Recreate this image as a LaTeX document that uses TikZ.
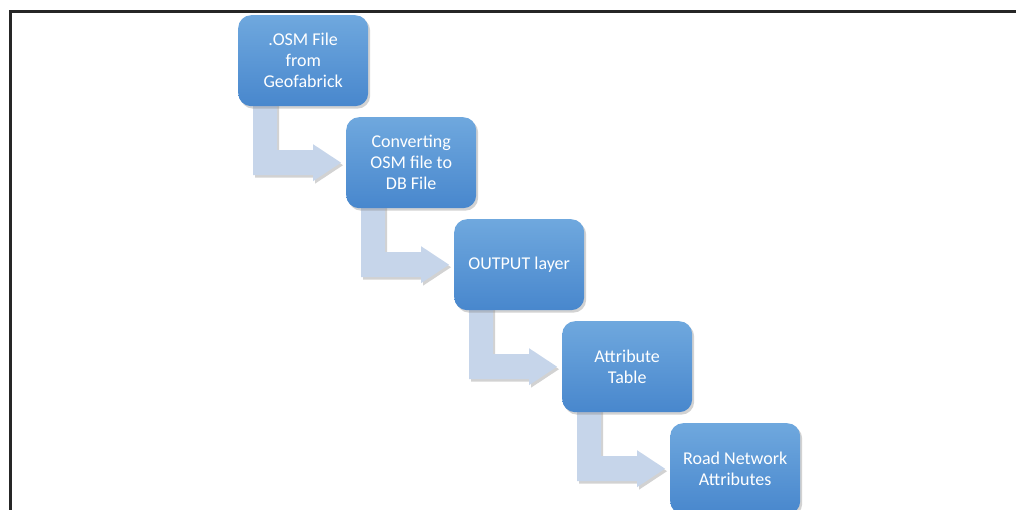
\documentclass[tikz,border=0pt]{standalone}
\usepackage{fontspec}
\setmainfont{Carlito}
\usetikzlibrary{calc,shadows}
\pgfdeclarelayer{bg}
\pgfsetlayers{bg,main}
\definecolor{boxtop}{HTML}{6FA8DE}
\definecolor{boxbot}{HTML}{4887CD}
\definecolor{arrowcol}{HTML}{C6D5EA}
\tikzset{
  stepbox/.style={rounded corners=13pt, minimum width=130pt, minimum height=91pt,
    top color=boxtop, bottom color=boxbot, text=white, align=center,
    inner sep=0pt, anchor=north west,
    font=\fontsize{18pt}{21pt}\selectfont,
    drop shadow={opacity=0.35, shadow xshift=2pt, shadow yshift=-2.5pt}},
  bentarrow/.style={fill=arrowcol,
    drop shadow={opacity=0.35, shadow xshift=2pt, shadow yshift=-2.5pt}},
  frame/.style={draw=black!85, line width=3pt}
}
\begin{document}
\begin{tikzpicture}[x=1pt,y=-1pt]
\useasboundingbox (0,0) rectangle (1016,510);
\clip (0,0) rectangle (1016,510);
\draw[frame] (10.5,12) rectangle (1030,530);
\node[stepbox] (b1) at (238,15) {.OSM File\\from\\Geofabrick};
\node[stepbox] (b2) at (346,117) {Converting\\OSM file to\\DB File};
\node[stepbox] (b3) at (454,219) {OUTPUT layer};
\node[stepbox] (b4) at (562,321) {Attribute\\Table};
\node[stepbox] (b5) at (670,423) {Road Network\\Attributes};
\begin{pgfonlayer}{bg}
\fill[white] (0,0) rectangle (1016,510);
\foreach \a/\b in {b1/b2,b2/b3,b3/b4,b4/b5}{
  \fill[bentarrow] let \p1=(\a.south west), \p2=(\b.west) in
    (\x1+15pt,\y1+6pt) -- (\x1+39pt,\y1+6pt) -- (\x1+39pt,\y2+12.5pt)
    -- (\x1+75pt,\y2+12.5pt) -- (\x1+75pt,\y2+18.5pt) -- (\x2-5pt,\y2)
    -- (\x1+75pt,\y2-18.5pt) -- (\x1+75pt,\y2-12.5pt) -- (\x1+15pt,\y2-12.5pt) -- cycle;
}
\end{pgfonlayer}
\end{tikzpicture}
\end{document}
